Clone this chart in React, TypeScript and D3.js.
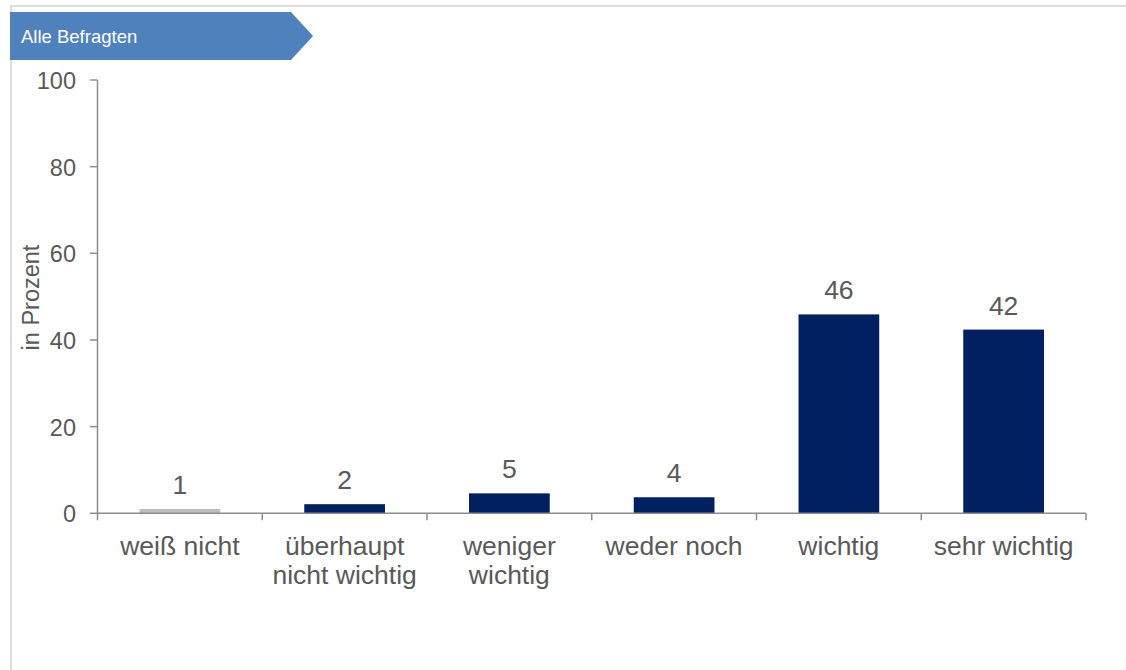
import React from "react";
import * as d3 from "d3";

const categories: string[][] = [
  ["weiß nicht"],
  ["überhaupt", "nicht wichtig"],
  ["weniger", "wichtig"],
  ["weder noch"],
  ["wichtig"],
  ["sehr wichtig"],
];
const values: number[] = [1.0, 2.1, 4.6, 3.7, 45.9, 42.4];
const valueLabels: string[] = ["1", "2", "5", "4", "46", "42"];
const barColors: string[] = ["#BFBFBF", "#002060", "#002060", "#002060", "#002060", "#002060"];
const yTicks: number[] = [0, 20, 40, 60, 80, 100];
const bannerText = "Alle Befragten";
const yTitle = "in Prozent";

const W = 1126;
const H = 670;
const FONT = "'Liberation Sans', Arial, sans-serif";
const TEXT = "#595959";
const AXIS = "#8C8C8C";

export default function App() {
  const x = d3
    .scaleBand<number>()
    .domain(d3.range(categories.length))
    .range([97.5, 1086])
    .padding(0);
  const y = d3.scaleLinear().domain([0, 100]).range([513.3, 80]);
  const bw = x.bandwidth() * 0.49;
  const y0 = y(0);

  const bannerPath = d3.path();
  bannerPath.moveTo(10, 12);
  bannerPath.lineTo(291, 12);
  bannerPath.lineTo(313, 36);
  bannerPath.lineTo(291, 60);
  bannerPath.lineTo(10, 60);
  bannerPath.closePath();

  const boundaries = d3.range(categories.length + 1).map((i) =>
    i < categories.length ? (x(i) as number) : (x(categories.length - 1) as number) + x.bandwidth()
  );

  return (
    <svg
      width={W}
      height={H}
      style={{ position: "absolute", left: 0, top: 0, background: "#fff" }}
      fontFamily={FONT}
    >
      {/* frame */}
      <line x1={10} y1={6} x2={W} y2={6} stroke="#DCDCDC" strokeWidth={2} />
      <line x1={11} y1={6} x2={11} y2={H} stroke="#DCDCDC" strokeWidth={2} />

      {/* banner */}
      <path d={bannerPath.toString()} fill="#4F81BD" />
      <text x={21} y={43} fill="#fff" fontSize={18.5}>
        {bannerText}
      </text>

      {/* bars */}
      {values.map((v, i) => {
        const cx = (x(i) as number) + x.bandwidth() / 2;
        return (
          <g key={i}>
            <rect
              x={cx - bw / 2}
              y={y(v)}
              width={bw}
              height={y0 - y(v)}
              fill={barColors[i]}
            />
            <text
              x={cx}
              y={y(v) - 15}
              textAnchor="middle"
              fontSize={26.5}
              fill={TEXT}
            >
              {valueLabels[i]}
            </text>
          </g>
        );
      })}

      {/* y axis */}
      <line x1={97.5} y1={y(100)} x2={97.5} y2={y0} stroke={AXIS} strokeWidth={1.5} />
      {yTicks.map((t) => (
        <g key={t}>
          <line x1={90} y1={y(t)} x2={97.5} y2={y(t)} stroke={AXIS} strokeWidth={1.5} />
          <text
            x={76}
            y={y(t) + 1}
            textAnchor="end"
            dominantBaseline="central"
            fontSize={23.5}
            fill={TEXT}
          >
            {t}
          </text>
        </g>
      ))}
      <text
        transform={`translate(31, 297.5) rotate(-90)`}
        textAnchor="middle"
        dominantBaseline="central"
        fontSize={23.5}
        fill={TEXT}
      >
        {yTitle}
      </text>

      {/* x axis */}
      <line x1={97.5} y1={y0} x2={1086} y2={y0} stroke={AXIS} strokeWidth={1.5} />
      {boundaries.map((b, i) => (
        <line key={i} x1={b} y1={y0} x2={b} y2={y0 + 7} stroke={AXIS} strokeWidth={1.5} />
      ))}
      {categories.map((lines, i) => {
        const cx = (x(i) as number) + x.bandwidth() / 2;
        return (
          <text key={i} x={cx} textAnchor="middle" fontSize={26.5} fill={TEXT}>
            {lines.map((l, j) => (
              <tspan key={j} x={cx} y={555 + j * 29}>
                {l}
              </tspan>
            ))}
          </text>
        );
      })}
    </svg>
  );
}
